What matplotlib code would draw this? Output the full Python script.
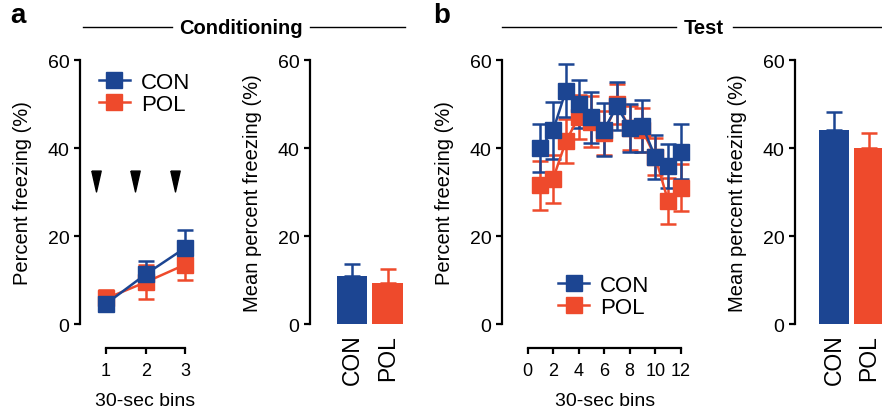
import matplotlib.pyplot as plt
from matplotlib.lines import Line2D
import numpy as np

plt.rcParams['font.family'] = ['Liberation Sans', 'DejaVu Sans']

BLUE = '#1c4592'
RED = '#ee4a2c'

# conditioning, per 30-sec bin
cond_bins = [1, 2, 3]
cond_con = [4.6, 11.3, 17.3]
cond_con_err = [1.5, 3.0, 4.0]
cond_pol = [5.8, 9.5, 13.5]
cond_pol_err = [2.0, 3.8, 3.5]
shock_x = [0.75, 1.72, 2.75]
shock_y = [32.4, 32.4, 32.4]

# conditioning means
groups = ['CON', 'POL']
cond_mean = [11.0, 9.3]
cond_mean_err = [2.7, 3.2]

# test, per 30-sec bin
test_bins = np.arange(1, 13)
test_con = [40, 44, 53, 50, 47, 44.2, 49.5, 44.5, 45, 38, 36, 39.2]
test_con_err = [5.5, 6.5, 6.0, 5.5, 5.8, 6.0, 5.5, 5.5, 6.0, 5.0, 5.0, 6.3]
test_pol = [31.5, 33, 41.5, 47, 46, 43.5, 50, 44.5, 44, 38, 28, 31]
test_pol_err = [5.5, 5.5, 5.0, 5.0, 5.8, 5.0, 4.5, 5.0, 5.0, 4.2, 5.2, 5.3]

# test means
test_mean = [44.0, 40.0]
test_mean_err = [4.2, 3.5]

fig = plt.figure(figsize=(8.82, 4.14), dpi=100)

W, H = 882.0, 414.0
bot = 1 - 325 / H
hgt = (325 - 61) / H


def style_axes(ax):
  for s in ['top', 'right']:
    ax.spines[s].set_visible(False)
  ax.spines['left'].set_linewidth(1.6)
  ax.spines['bottom'].set_linewidth(1.6)
  ax.set_ylim(0, 60)
  ax.set_yticks([0, 20, 40, 60])
  ax.tick_params(axis='y', width=1.6, length=4.5, labelsize=14, pad=3)
  ax.tick_params(axis='x', width=1.6, length=4.5, labelsize=13, pad=6)


def line_panel(ax, x, con, con_err, pol, pol_err, lab_x):
  kw = dict(marker='s', markersize=11, linewidth=1.8, elinewidth=1.8,
            capsize=6, capthick=1.8)
  ax.errorbar(x, pol, yerr=pol_err, color=RED, **kw)
  ax.errorbar(x, con, yerr=con_err, color=BLUE, **kw)
  style_axes(ax)
  ax.spines['bottom'].set_position(('outward', 17))
  ax.set_ylabel('Percent freezing (%)', fontsize=14.5, labelpad=11)
  ax.set_xlabel('30-sec bins', fontsize=14, labelpad=9)
  ax.xaxis.label.set_x(lab_x)


def bar_panel(ax, means, errs):
  xs = np.arange(len(groups))
  colors = [BLUE, RED]
  ax.bar(xs, means, width=0.85, color=colors, zorder=2)
  for i in range(len(groups)):
    ax.errorbar(xs[i], means[i], yerr=[[0], [errs[i]]], fmt='none',
                ecolor=colors[i], elinewidth=1.8, capsize=6, capthick=1.8,
                zorder=1)
  style_axes(ax)
  ax.spines['bottom'].set_visible(False)
  ax.set_xticks(xs)
  ax.set_xticklabels(groups, rotation=90, fontsize=16.5)
  ax.tick_params(axis='x', length=0, pad=7)
  ax.set_ylabel('Mean percent freezing (%)', fontsize=14.5, labelpad=11)


def legend(ax, anchor):
  h = [Line2D([], [], color=BLUE, marker='s', markersize=11, linewidth=1.8),
       Line2D([], [], color=RED, marker='s', markersize=11, linewidth=1.8)]
  ax.legend(h, groups, loc='upper left', bbox_to_anchor=anchor,
            frameon=False, fontsize=16, handlelength=1.4, handletextpad=0.5,
            labelspacing=0.05, borderaxespad=0)


# panel a, line
ax1 = fig.add_axes([80 / W, bot, 121 / W, hgt])
line_panel(ax1, cond_bins, cond_con, cond_con_err, cond_pol, cond_pol_err,
           (145 - 80) / 121)
ax1.set_xlim(0.34, 3.4)
ax1.set_xticks(cond_bins)
ax1.spines['bottom'].set_bounds(1, 3)
tri = [(-0.45, 1), (0.45, 1), (0, -1), (-0.45, 1)]
ax1.plot(shock_x, shock_y, linestyle='none', marker=tri, markersize=15,
         color='black')
legend(ax1, (0.08, 0.99))

# panel a, bars
ax2 = fig.add_axes([310 / W, bot, 99 / W, hgt])
bar_panel(ax2, cond_mean, cond_mean_err)
ax2.set_xlim(-1.18, 1.6)

# panel b, line
ax3 = fig.add_axes([502 / W, bot, 189 / W, hgt])
line_panel(ax3, test_bins, test_con, test_con_err, test_pol, test_pol_err,
           (605 - 502) / 189)
ax3.set_xlim(-2.0, 12.8)
ax3.set_xticks(np.arange(0, 13, 2))
ax3.spines['bottom'].set_bounds(0, 12)
legend(ax3, (0.25, 0.22))

# panel b, bars
ax4 = fig.add_axes([795 / W, bot, 100 / W, hgt])
bar_panel(ax4, test_mean, test_mean_err)
ax4.set_xlim(-1.12, 1.75)

# panel letters and headings
fig.text(10 / W, 1 - 16 / H, 'a', fontsize=20, fontweight='bold', va='center')
fig.text(433 / W, 1 - 16 / H, 'b', fontsize=20, fontweight='bold', va='center')

hy = 1 - 28 / H
fig.text(241 / W, hy, 'Conditioning', fontsize=14.5, fontweight='bold',
         ha='center', va='center')
fig.text(704 / W, hy, 'Test', fontsize=14.5, fontweight='bold',
         ha='center', va='center')
for x0, x1 in [(83, 172), (310, 405), (502, 676), (733, 882)]:
  fig.add_artist(Line2D([x0 / W, x1 / W], [hy, hy], color='black',
                        linewidth=1.0))

fig.savefig('out.png', dpi=100)
